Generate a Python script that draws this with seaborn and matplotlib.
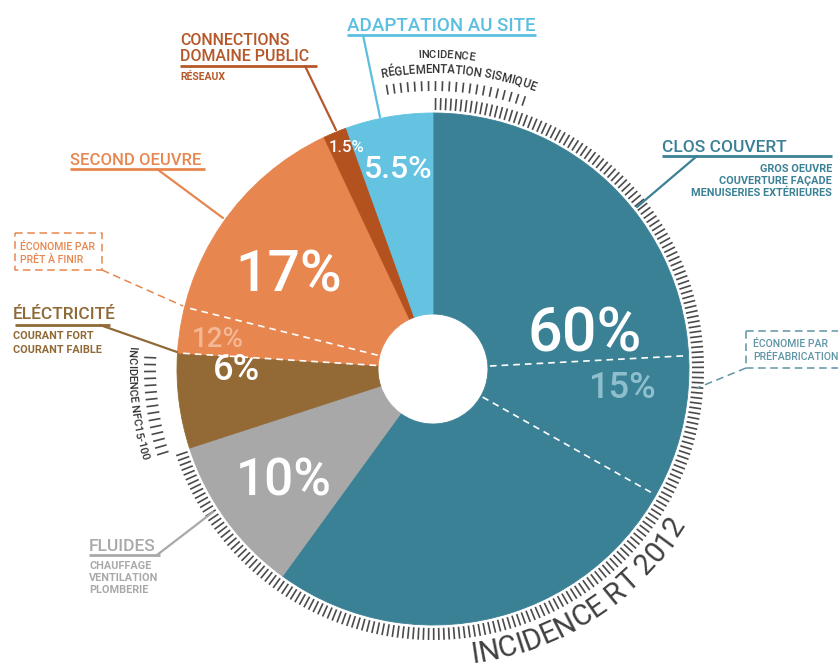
import numpy as np
import matplotlib
matplotlib.use("Agg")
import matplotlib.pyplot as plt
import seaborn as sns
from matplotlib.font_manager import FontProperties
from matplotlib.textpath import text_to_path

# data (clockwise from 12 o'clock)
categories = ["CLOS COUVERT", "FLUIDES", "ÉLÉCTRICITÉ", "SECOND OEUVRE",
              "CONNECTIONS\nDOMAINE PUBLIC", "ADAPTATION AU SITE"]
sub_labels = ["GROS OEUVRE\nCOUVERTURE FAÇADE\nMENUISERIES EXTÉRIEURES",
              "CHAUFFAGE\nVENTILATION\nPLOMBERIE",
              "COURANT FORT\nCOURANT FAIBLE", "", "RÉSEAUX", ""]
shares = [60, 10, 6, 17, 1.5, 5.5]
saving_labels = ["ÉCONOMIE PAR\nPRÉFABRICATION", "ÉCONOMIE PAR\nPRÊT À FINIR"]
savings = [15, 12]
incidence_labels = ["INCIDENCE RT 2012", "INCIDENCE NFC15-100",
                    "INCIDENCE", "RÉGLEMENTATION SISMIQUE"]

colors = ["#3b8196", "#a8a8a8", "#936a36", "#e8864f", "#b4521f", "#63c3e1"]
title_colors = ["#3b8196", "#a9a9a9", "#8f6a36", "#e8864f", "#b5582a", "#5cbfe0"]
saving_colors = ["#8fbfcd", "#f5b896"]
tick_color = "#4a4a4a"

sns.set_theme(style="white")
plt.rcParams['font.family'] = ['Roboto', 'DejaVu Sans']

fig = plt.figure(figsize=(8.38, 6.70), dpi=100)
ax = fig.add_axes([0, 0, 1, 1])

CX, CY, R, R0 = 433, 369, 256, 55
wedges, _ = ax.pie(shares, colors=sns.color_palette(colors), startangle=-90,
                   counterclock=True, radius=R, center=(CX, CY),
                   wedgeprops=dict(width=R - R0, linewidth=0.6))
for w in wedges:
    w.set_edgecolor(w.get_facecolor())
ax.set_xlim(0, 838)
ax.set_ylim(670, 0)
ax.set_aspect('equal')
ax.axis('off')

bounds = np.cumsum([0] + shares) * 3.6


def P(t, r):
    return CX + r * np.sin(np.radians(t)), CY - r * np.cos(np.radians(t))


def ticks(t0, t1, r0, r1, step):
    xs, ys = [], []
    for t in np.arange(t0 + step / 2, t1, step):
        x0, y0 = P(t, r0)
        x1, y1 = P(t, r1)
        xs += [x0, x1, np.nan]
        ys += [y0, y1, np.nan]
    ax.plot(xs, ys, color=tick_color, lw=1.2, solid_capstyle='butt')


def adv(ch, fp):
    w1 = text_to_path.get_text_width_height_descent("H" + ch + "H", fp, ismath=False)[0]
    w2 = text_to_path.get_text_width_height_descent("HH", fp, ismath=False)[0]
    return (w1 - w2) * 100 / 72


def arc_text(s, r, tmid, fs, color, top=True, weight='normal'):
    fp = FontProperties(family='Roboto', size=fs, weight=weight)
    widths = [adv(ch, fp) for ch in s]
    span = np.degrees(sum(widths) / r)
    pos = 0
    for ch, w in zip(s, widths):
        mid = np.degrees((pos + w / 2) / r)
        if top:
            t = tmid - span / 2 + mid
            rot = -t
        else:
            t = tmid + span / 2 - mid
            rot = 180 - t
        x, y = P(t, r)
        ax.text(x, y, ch, rotation=rot, rotation_mode='anchor', ha='center',
                va='baseline', fontsize=fs, color=color, fontweight=weight,
                family='Roboto')
        pos += w


# incidence rings
ticks(bounds[0], bounds[2], 259, 271, 1.1)
ticks(bounds[2], bounds[3], 277, 289, 1.4)
ticks(350, 380, 278, 288, 1.4)
arc_text(incidence_labels[0], 297, 147, 21, "#404040", top=False, weight='normal')
arc_text(incidence_labels[1], 305, 263.4, 8, "#333333", top=False, weight='medium')
arc_text(incidence_labels[2], 311, 2.4, 8, "#333333", top=True, weight='medium')
arc_text(incidence_labels[3], 296, 4.9, 8.3, "#333333", top=True, weight='medium')

# dashed separators inside the pie
for t in [87, 119.5, bounds[3], 284]:
    x0, y0 = P(t, R0 + 2)
    x1, y1 = P(t, R - 1)
    ax.plot([x0, x1], [y0, y1], color="white", lw=1.2, dashes=(4, 3))

# percentage labels
pct_pos = [(585, 352), (284, 495), (236, 380), (289, 292), (346, 152), (398, 178)]
pct_size = [44, 37, 26, 41, 12, 23]
for v, (x, y), fs in zip(shares, pct_pos, pct_size):
    ax.text(x, y, f"{v:g}%", ha='center', va='baseline', fontsize=fs,
            color="white", fontweight='medium')
sav_pos = [(622, 398), (218, 347)]
sav_size = [26, 20]
for v, (x, y), fs, c in zip(savings, sav_pos, sav_size, saving_colors):
    ax.text(x, y, f"{v:g}%", ha='center', va='baseline', fontsize=fs,
            color=c, fontweight='medium')

# category titles, underline and leader lines
title_pos = [(662, 152), (89, 551), (13, 319), (70, 165), (180, 61), (347, 31)]
title_size = [12.5, 12.5, 12.5, 12, 11.5, 13.5]
underline = [(662, 832, 156), (89, 160, 555), (15, 110, 325),
             (70, 205, 169), (180, 317, 66), (347, 536, 35)]
leaders = [((697, 156), (637, 207)), ((157, 555), (213, 512)),
           ((100, 325), (177, 352)), ((157, 169), (223, 218)),
           ((305, 66), (336, 130)), ((363, 35), (380, 117))]
sub_pos = [(832, 172, 'right'), (89, 569, 'left'), (13, 339, 'left'),
           None, (180, 80, 'left'), None]
for i, name in enumerate(categories):
    c = title_colors[i]
    ax.text(*title_pos[i], name, ha='left', va='baseline', fontsize=title_size[i],
            color=c, fontweight='medium', linespacing=1.05)
    x0, x1, yu = underline[i]
    ax.plot([x0, x1], [yu, yu], color=c, lw=2, solid_capstyle='butt')
    (a, b), (cc, d) = leaders[i]
    ax.plot([a, cc], [b, d], color=c, lw=1.6)
    if sub_pos[i] is not None:
        sx, sy, ha = sub_pos[i]
        gap = 12 if i in (0, 1) else 14
        for k, line in enumerate(sub_labels[i].split("\n")):
            ax.text(sx, sy + k * gap, line, ha=ha, va='baseline',
                    fontsize=7.8 if i != 4 else 7.5, color=c, fontweight='bold')

# savings callout boxes
box_color = ["#5f95a5", "#e8864f"]
boxes = [(746, 331, 110, 37), (15, 233, 87, 37)]
box_text = [(753, 347), (20, 250)]
box_leader = [((746, 368), (697, 388)), ((102, 270), (183, 306))]
for i, lab in enumerate(saving_labels):
    bx, by, bw, bh = boxes[i]
    ax.plot([bx, bx + bw, bx + bw, bx, bx], [by, by, by + bh, by + bh, by],
            color=box_color[i], lw=1.1, dashes=(5, 3))
    for k, line in enumerate(lab.split("\n")):
        ax.text(box_text[i][0], box_text[i][1] + k * 13, line, ha='left',
                va='baseline', fontsize=7.6, color=box_color[i] if i == 0 else "#e8864f",
                fontweight='medium')
    (a, b), (cc, d) = box_leader[i]
    ax.plot([a, cc], [b, d], color=box_color[i], lw=1.1, dashes=(5, 3))

fig.savefig("out.png", dpi=100, facecolor="white")
